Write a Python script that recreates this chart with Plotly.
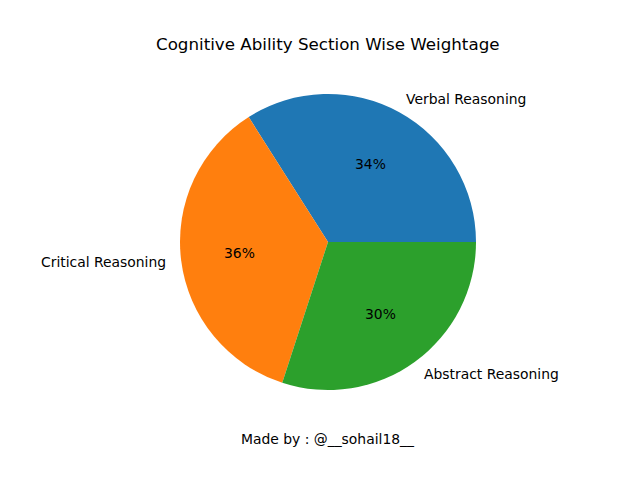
import math
import plotly.graph_objects as go

labels = ["Verbal Reasoning", "Critical Reasoning", "Abstract Reasoning"]
values = [34, 36, 30]
colors = ["#1f77b4", "#ff7f0e", "#2ca02c"]
title_text = "Cognitive Ability Section Wise Weightage"
footer_text = "Made by : @__sohail18__"

W, H = 640, 480
OFF = 8  # page body offset in the browser
cx, cy, r = 328 - OFF, 242 - OFF, 148

total = sum(values)
first_deg = values[0] / total * 360

fig = go.Figure()
fig.add_trace(go.Pie(
    labels=labels, values=values, sort=False,
    direction="counterclockwise", rotation=90 - first_deg,
    marker=dict(colors=colors, line=dict(width=0)),
    textinfo="none", hoverinfo="label+percent",
    showlegend=False,
    domain=dict(x=[(cx - r) / W, (cx + r) / W], y=[(H - cy - r) / H, (H - cy + r) / H]),
))

font = dict(family="DejaVu Sans", size=13.9, color="black")
annotations = []
start = 0.0
for lab, v in zip(labels, values):
    frac = v / total
    mid = math.radians((start + frac / 2) * 360)
    start += frac
    c, s = math.cos(mid), math.sin(mid)
    lx = cx + 1.1 * r * c
    ly = cy - 1.1 * r * s
    annotations.append(dict(
        x=lx / W, y=1 - ly / H, xref="paper", yref="paper",
        text=lab, showarrow=False, font=font, borderpad=0, borderwidth=0,
        xanchor="left" if c > 0 else "right", yanchor="middle",
    ))
    px = cx + 0.6 * r * c
    py = cy - 0.6 * r * s
    annotations.append(dict(
        x=px / W, y=1 - py / H, xref="paper", yref="paper",
        text=f"{round(frac * 100)}%", showarrow=False, font=font,
        xanchor="center", yanchor="middle",
    ))

annotations.append(dict(
    x=(328 - OFF) / W, y=1 - (44 - OFF) / H, xref="paper", yref="paper",
    text=title_text, showarrow=False,
    font=dict(family="DejaVu Sans", size=16.7, color="black"),
    xanchor="center", yanchor="middle",
))
annotations.append(dict(
    x=(328 - OFF) / W, y=1 - (439 - OFF) / H, xref="paper", yref="paper",
    text=footer_text, showarrow=False, font=font,
    xanchor="center", yanchor="middle",
))

fig.update_layout(
    width=W, height=H,
    margin=dict(l=0, r=0, t=0, b=0),
    paper_bgcolor="white", plot_bgcolor="white",
    annotations=annotations,
)
fig.write_html("out.html")
